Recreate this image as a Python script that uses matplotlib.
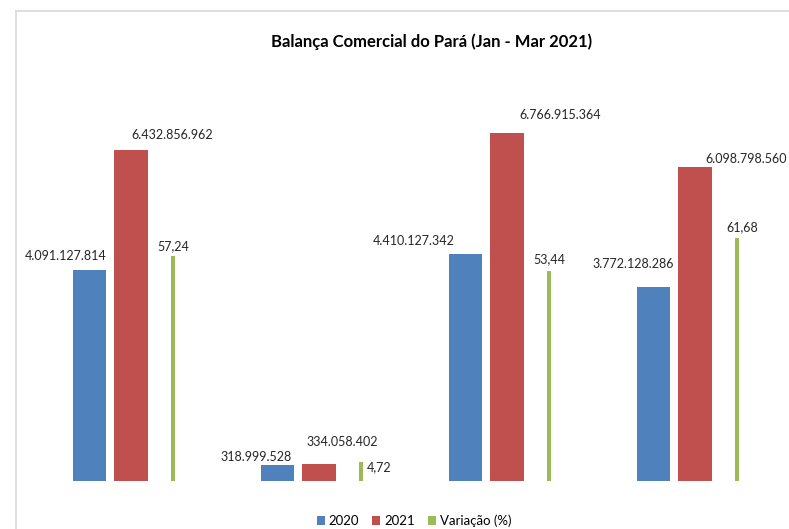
import matplotlib.pyplot as plt
import numpy as np

# Dados
grupos = ["A", "B", "C", "D"]
v2020 = [4091127814, 318999528, 4410127342, 3772128286]
v2021 = [6432856962, 334058402, 6766915364, 6098798560]
variacao = [57.24, 4.72, 53.44, 61.68]

# deslocamento dos rótulos (pixels, centro do texto em relação ao topo da barra)
off_2020 = [(-23, 14), (-21, 8), (-51, 13), (-20, 23)]
off_2021 = [(41, 15), (23, 22), (53, 18), (51, 8)]
off_var = [(0, 10), (18, -5), (0, 12), (5, 11)]

azul = "#4F81BD"
vermelho = "#C0504D"
verde = "#9BBB59"

plt.rcParams['font.family'] = ['Lato', 'DejaVu Sans']

fig = plt.figure(figsize=(7.89, 5.29), dpi=100)

# moldura do gráfico
fig.add_artist(plt.Line2D([16/789, 16/789], [0, 1 - 10.5/529], color="#d9d9d9", lw=1.2))
fig.add_artist(plt.Line2D([16/789, 1], [1 - 10.5/529, 1 - 10.5/529], color="#d9d9d9", lw=1.2))

ax = fig.add_axes([37/789, 48/529, 752/789, 421/529])
ax2 = ax.twinx()

x = np.arange(len(grupos))
b1 = ax.bar(x - 0.223, v2020, width=0.176, color=azul, label="2020")
b2 = ax.bar(x, v2021, width=0.181, color=vermelho, label="2021")
b3 = ax2.bar(x + 0.223, variacao, width=0.022, color=verde, label="Variação (%)")

ax.set_xlim(-0.5, 3.5)
ax.set_ylim(0, 8.18e9)
ax2.set_ylim(0, 107)

for a in (ax, ax2):
    a.axis("off")

def fmt_int(v):
    return f"{v:,}".replace(",", ".")

for i in range(len(grupos)):
    ax.annotate(fmt_int(v2020[i]), (x[i] - 0.223, v2020[i]), xytext=off_2020[i],
                textcoords="offset pixels", ha="center", va="center", fontsize=9, color="#262626")
    ax.annotate(fmt_int(v2021[i]), (x[i], v2021[i]), xytext=off_2021[i],
                textcoords="offset pixels", ha="center", va="center", fontsize=9, color="#262626",
                annotation_clip=False)
    ax2.annotate(f"{variacao[i]:.2f}".replace(".", ","), (x[i] + 0.223, variacao[i]), xytext=off_var[i],
                 textcoords="offset pixels", ha="center", va="center", fontsize=9, color="#262626")

fig.text(432/789, 1 - 42/529, "Balança Comercial do Pará (Jan - Mar 2021)", ha="center", va="center",
         fontsize=12, fontweight="bold", color="#000000")

fig.legend(handles=[b1, b2, b3], loc="center", bbox_to_anchor=(414/789, 1 - 521/529), ncol=3,
           frameon=False, fontsize=9.5, handlelength=0.6, handleheight=0.6, handletextpad=0.3,
           columnspacing=1.0, borderpad=0)

fig.savefig("out.png", dpi=100)
